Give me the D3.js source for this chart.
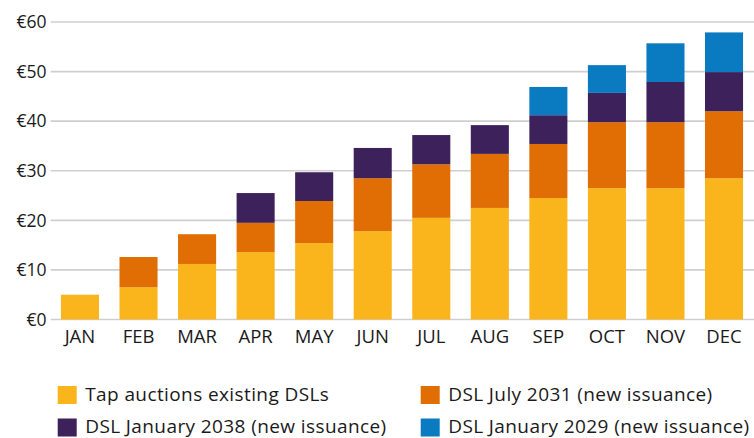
<!DOCTYPE html>
<html>
<head>
<meta charset="utf-8">
<script src="https://cdn.jsdelivr.net/npm/d3@7"></script>
<style>
  html, body { margin: 0; padding: 0; background: #fff; }
  svg { display: block; font-family: "Open Sans", Lato, sans-serif; }
</style>
</head>
<body>
<svg id="chart" width="754" height="438"></svg>
<script>
const months = ["JAN","FEB","MAR","APR","MAY","JUN","JUL","AUG","SEP","OCT","NOV","DEC"];
const tapAuctions = [5.0, 6.5, 11.2, 13.6, 15.4, 17.8, 20.5, 22.5, 24.5, 26.5, 26.5, 28.5];
const dslJul2031 = [0, 6.1, 6.0, 5.9, 8.5, 10.7, 10.8, 10.9, 10.9, 13.3, 13.3, 13.5];
const dslJan2038 = [0, 0, 0, 6.0, 5.8, 6.1, 5.9, 5.8, 5.8, 5.9, 8.1, 7.9];
const dslJan2029 = [0, 0, 0, 0, 0, 0, 0, 0, 5.7, 5.6, 7.8, 8.0];
const seriesNames = ["Tap auctions existing DSLs", "DSL July 2031 (new issuance)", "DSL January 2038 (new issuance)", "DSL January 2029 (new issuance)"];
const seriesColors = ["#F9B51B", "#E06E04", "#3D215B", "#0A7AC1"];
const yTicks = [0, 10, 20, 30, 40, 50, 60];

const seriesKeys = ["tap", "jul2031", "jan2038", "jan2029"];
const table = months.map((m, i) => ({
  month: m, tap: tapAuctions[i], jul2031: dslJul2031[i], jan2038: dslJan2038[i], jan2029: dslJan2029[i]
}));
const stacked = d3.stack().keys(seriesKeys)(table);

const svg = d3.select("#chart");
const x = d3.scaleBand().domain(months).range([50.7, 753.3]).paddingInner(0.35).paddingOuter(0.175);
const y = d3.scaleLinear().domain([0, 60]).range([319.5, 22.0]);

// gridlines
svg.append("g").selectAll("line").data(yTicks).join("line")
  .attr("x1", 50.7).attr("x2", 754)
  .attr("y1", d => y(d)).attr("y2", d => y(d))
  .attr("stroke", "#cfcfcf").attr("stroke-width", 1.6);

// y labels
svg.append("g").selectAll("text").data(yTicks).join("text")
  .attr("x", 46.5).attr("y", d => y(d)).attr("dy", "0.36em")
  .attr("text-anchor", "end").attr("font-size", 17.5).attr("fill", "#1a1a1a")
  .text(d => "€" + d);

// bars
svg.append("g").selectAll("g").data(stacked).join("g")
  .attr("fill", (d, i) => seriesColors[i])
  .selectAll("rect").data(d => d).join("rect")
  .attr("x", d => x(d.data.month))
  .attr("width", x.bandwidth())
  .attr("y", d => y(d[1]))
  .attr("height", d => Math.max(0, y(d[0]) - y(d[1])));

// x labels
svg.append("g").selectAll("text").data(months).join("text")
  .attr("x", d => x(d) + x.bandwidth() / 2).attr("y", 343)
  .attr("text-anchor", "middle").attr("font-size", 18.5).attr("fill", "#1a1a1a")
  .text(d => d);

// legend
const legendPos = [[57.7, 386], [420.7, 386], [57.7, 418.5], [420.7, 418.5]];
const order = [0, 1, 2, 3];
const lg = svg.append("g").selectAll("g").data(order).join("g")
  .attr("transform", (d, i) => `translate(${legendPos[i][0]},${legendPos[i][1]})`);
lg.append("rect").attr("width", 19).attr("height", 18).attr("fill", d => seriesColors[d]);
lg.append("text").attr("x", 27.5).attr("y", 14.5).attr("font-size", 19).attr("letter-spacing", 0.4)
  .attr("fill", "#1a1a1a")
  .text(d => seriesNames[d]);
</script>
</body>
</html>
